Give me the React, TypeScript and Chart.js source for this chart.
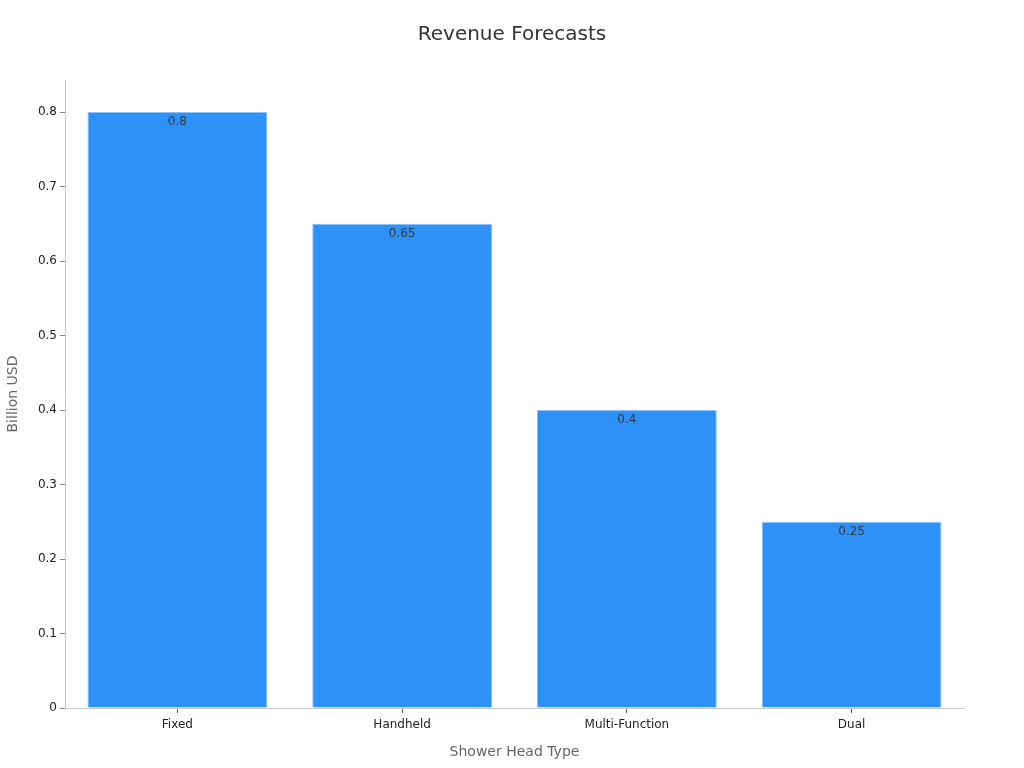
import { useEffect, useRef } from "react"
import { Chart, registerables } from "chart.js"

Chart.register(...registerables)

const categories = ["Fixed", "Handheld", "Multi-Function", "Dual"]
const revenue = [0.8, 0.65, 0.4, 0.25]
const yTicks = [0, 0.1, 0.2, 0.3, 0.4, 0.5, 0.6, 0.7, 0.8]
const chartTitle = "Revenue Forecasts"

const FONT = "'DejaVu Sans', sans-serif"

// writes each bar's value just inside its top edge
const valueLabels = {
  id: "valueLabels",
  afterDatasetsDraw(chart: Chart) {
    const { ctx } = chart
    const meta = chart.getDatasetMeta(0)
    ctx.save()
    ctx.font = `12px ${FONT}`
    ctx.fillStyle = "#3a3a3a"
    ctx.textAlign = "center"
    ctx.textBaseline = "top"
    meta.data.forEach((bar, i) => {
      ctx.fillText(String(revenue[i]), bar.x, bar.y + 4)
    })
    ctx.restore()
  },
}

// title centred on the whole canvas, not on the padded box
const canvasTitle = {
  id: "canvasTitle",
  afterDraw(chart: Chart) {
    const { ctx, width } = chart
    ctx.save()
    ctx.font = `20px ${FONT}`
    ctx.fillStyle = "#333333"
    ctx.textAlign = "center"
    ctx.textBaseline = "alphabetic"
    ctx.fillText(chartTitle, width / 2, 40)
    ctx.restore()
  },
}

export default function App() {
  const chartRef = useRef<HTMLCanvasElement>(null)
  const chartInstance = useRef<Chart | null>(null)

  useEffect(() => {
    if (!chartRef.current) return
    if (chartInstance.current) chartInstance.current.destroy()
    const ctx = chartRef.current.getContext("2d")
    if (!ctx) return

    chartInstance.current = new Chart(ctx, {
      type: "bar",
      data: {
        labels: categories,
        datasets: [
          {
            data: revenue,
            backgroundColor: "#2e91f8",
            borderColor: "#8cc2f9",
            borderWidth: 1,
            categoryPercentage: 0.8,
            barPercentage: 1,
          },
        ],
      },
      plugins: [valueLabels, canvasTitle],
      options: {
        animation: false,
        responsive: true,
        maintainAspectRatio: false,
        layout: { padding: { left: 0, right: 60, top: 80, bottom: 0 } },
        plugins: {
          legend: { display: false },
          tooltip: { enabled: false },
          title: { display: false },
        },
        scales: {
          x: {
            afterFit: (scale) => {
              scale.height = 60
            },
            grid: {
              display: true,
              drawOnChartArea: false,
              drawTicks: true,
              tickLength: 5,
              offset: false,
              color: "#555555",
            },
            border: { display: true, color: "#cccccc" },
            ticks: {
              color: "#222222",
              font: { family: FONT, size: 12 },
              padding: 5,
            },
            title: {
              display: true,
              text: "Shower Head Type",
              color: "#666666",
              font: { family: FONT, size: 14 },
              padding: { top: 0, bottom: 7 },
            },
          },
          y: {
            min: 0,
            max: 0.843,
            afterFit: (scale) => {
              scale.width = 65
            },
            afterBuildTicks: (scale) => {
              scale.ticks = yTicks.map((v) => ({ value: v }))
            },
            grid: {
              display: true,
              drawOnChartArea: false,
              drawTicks: true,
              tickLength: 5,
              color: "#888888",
            },
            border: { display: true, color: "#cccccc" },
            ticks: {
              color: "#222222",
              font: { family: FONT, size: 12 },
              padding: 3,
              callback: (v) => String(v),
            },
            title: {
              display: true,
              text: "Billion USD",
              color: "#666666",
              font: { family: FONT, size: 14 },
              padding: { top: 5, bottom: 0 },
            },
          },
        },
      },
    })

    return () => {
      if (chartInstance.current) {
        chartInstance.current.destroy()
        chartInstance.current = null
      }
    }
  }, [])

  return (
    <div style={{ position: "fixed", left: 0, top: 0, width: 1024, height: 768, background: "#ffffff" }}>
      <canvas ref={chartRef} />
    </div>
  )
}
